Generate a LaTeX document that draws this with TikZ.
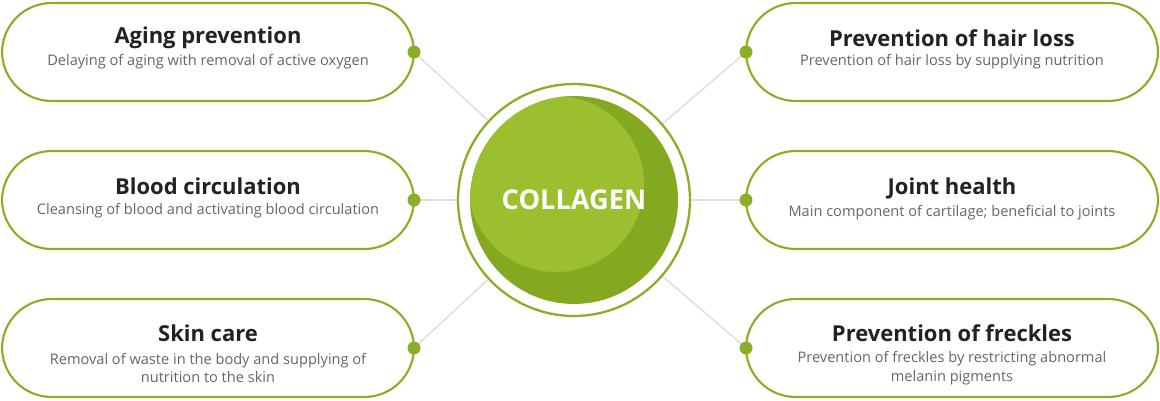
\documentclass[tikz,border=0pt]{standalone}
\usepackage{fontspec}
\setmainfont{Open Sans}
\usetikzlibrary{positioning}
\definecolor{leaf}{HTML}{8AAE26}
\definecolor{leafdark}{HTML}{84A820}
\definecolor{leaflight}{HTML}{9BBF2E}
\definecolor{wire}{HTML}{DDDDDD}
\definecolor{ink}{HTML}{222222}
\definecolor{note}{HTML}{666666}
\begin{document}
\begin{tikzpicture}[x=0.02cm,y=-0.02cm]
  \tikzset{pill/.style={draw=leaf,line width=1.2pt,rounded corners=0.99cm,minimum width=8.24cm,minimum height=1.96cm,fill=white}}
  \tikzset{dot/.style={circle,fill=leaf,inner sep=0pt,minimum size=0.26cm}}
  \tikzset{head/.style={font=\fontsize{12.5}{14}\selectfont\bfseries,text=ink}}
  \tikzset{sub/.style={font=\fontsize{8.3}{10.5}\selectfont,text=note,align=center}}
  \useasboundingbox (0,0) rectangle (1160,400);
  \coordinate (hub) at (574,200);
  % wires
  \foreach \p in {(414,52),(414,200),(414,348),(746,52),(746,200),(746,348)}
    \draw[wire,line width=0.8pt] (hub) -- \p;
  % center
  \node[circle,draw=leaf,line width=1.3pt,fill=white,minimum size=4.64cm] (ring) at (hub) {};
  \node[circle,fill=leafdark,minimum size=4.16cm] (core) at (hub) {};
  \begin{scope}
    \clip (hub) circle (104);
    \fill[leaflight] (556,184) circle (88);
  \end{scope}
  \node[text=white,font=\fontsize{15.5}{18}\selectfont\bfseries] (hubtext) at (hub) {COLLAGEN};
  % left pills
  \node[pill] (aging) at (208,52) {};
  \node[pill] (blood) at (208,200) {};
  \node[pill] (skin) at (208,348) {};
  \node[pill] (hair) at (952,52) {};
  \node[pill] (joint) at (952,200) {};
  \node[pill] (freck) at (952,348) {};
  \node[head] at (208,38) {Aging prevention};
  \node[sub] at (208,62) {Delaying of aging with removal of active oxygen};
  \node[head] at (208,186) {Blood circulation};
  \node[sub] at (208,211) {Cleansing of blood and activating blood circulation};
  \node[head] at (208,333) {Skin care};
  \node[sub] at (208,368) {Removal of waste in the body and supplying of\\nutrition to the skin};
  \node[head] at (952,38) {Prevention of hair loss};
  \node[sub] at (952,62) {Prevention of hair loss by supplying nutrition};
  \node[head] at (952,188) {Joint health};
  \node[sub] at (952,213) {Main component of cartilage; beneficial to joints};
  \node[head] at (952,333) {Prevention of freckles};
  \node[sub] at (952,368) {Prevention of freckles by restricting abnormal\\melanin pigments};
  % dots
  \node[dot] (d1) at (414,52) {};
  \node[dot] (d2) at (414,200) {};
  \node[dot] (d3) at (414,348) {};
  \node[dot] (d4) at (746,52) {};
  \node[dot] (d5) at (746,200) {};
  \node[dot] (d6) at (746,348) {};
\end{tikzpicture}
\end{document}
